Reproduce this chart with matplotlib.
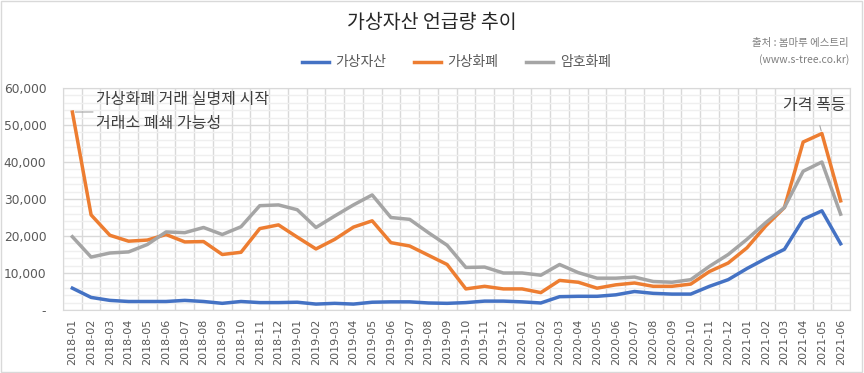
import numpy as np
import matplotlib.pyplot as plt
from matplotlib.ticker import FuncFormatter, MultipleLocator
from matplotlib.patches import Rectangle

plt.rcParams['font.family'] = ['Noto Sans CJK KR', 'DejaVu Sans']

# months 2018-01 .. 2021-06
months = []
for y in range(2018, 2022):
    for m in range(1, 13):
        if y == 2021 and m > 6:
            break
        months.append("%d-%02d" % (y, m))

asset = [5900, 3400, 2600, 2300, 2300, 2300, 2600, 2300, 1800, 2300, 2000, 2000,
         2100, 1600, 1800, 1600, 2100, 2200, 2200, 1900, 1800, 2000, 2400, 2400,
         2200, 1900, 3600, 3700, 3700, 4100, 5000, 4500, 4300, 4300, 6400, 8200,
         11200, 13900, 16400, 24500, 26800, 17900]
virtual = [53500, 25700, 20200, 18600, 18900, 20400, 18400, 18500, 15000, 15600, 22000, 23000,
           19700, 16500, 19100, 22400, 24100, 18200, 17300, 14800, 12300, 5700, 6400, 5700,
           5700, 4700, 8000, 7500, 5900, 6800, 7300, 6400, 6400, 7000, 10400, 12700,
           16800, 22700, 27700, 45400, 47700, 29500]
crypto = [19800, 14300, 15400, 15700, 17700, 21100, 20900, 22300, 20400, 22500, 28200, 28400,
          27100, 22300, 25400, 28400, 31100, 25000, 24500, 20900, 17500, 11500, 11600, 10000,
          10000, 9400, 12300, 10100, 8600, 8600, 8900, 7700, 7500, 8200, 11800, 15000,
          19100, 23600, 27700, 37500, 40000, 25900]

names = ['가상자산', '가상화폐', '암호화폐']
colors = ['#4472C4', '#ED7D31', '#A5A5A5']

fig = plt.figure(figsize=(8.64, 3.73), dpi=100)
ax = fig.add_axes([63 / 864, 1 - 310 / 373, (850 - 63) / 864, (310 - 88) / 373])

x = np.arange(len(months))
for vals, name, c in zip([asset, virtual, crypto], names, colors):
    ax.plot(x, vals, color=c, lw=2.5, label=name, solid_joinstyle='round', zorder=3)

ax.set_xlim(-0.5, len(months) - 0.5)
ax.set_ylim(0, 60000)
ax.yaxis.set_major_locator(MultipleLocator(10000))
ax.yaxis.set_minor_locator(MultipleLocator(2000))
ax.yaxis.set_major_formatter(FuncFormatter(lambda v, p: '-' if v == 0 else '{:,.0f}'.format(v)))
ax.set_xticks(x)
ax.set_xticklabels(months, rotation=90, fontsize=8, color='#595959', family='DejaVu Sans')
ax.set_xticks(np.arange(-0.5, len(months), 1), minor=True)
ax.tick_params(axis='y', labelsize=8.8, colors='#595959', length=0, which='both', pad=12)
ax.tick_params(axis='x', length=0, which='both', pad=6)
for lbl in ax.get_yticklabels():
    lbl.set_family('DejaVu Sans')

ax.grid(axis='y', which='major', color='#D9D9D9', lw=1)
ax.grid(axis='y', which='minor', color='#EFEFEF', lw=1)
ax.grid(axis='x', which='minor', color='#D9D9D9', lw=1)
ax.set_axisbelow(True)
for s in ax.spines.values():
    s.set_color('#D9D9D9')

fig.text(0.5, 1 - 22 / 373, '가상자산 언급량 추이', ha='center', va='center', fontsize=14, color='#262626')
ax.legend(loc='center', bbox_to_anchor=(0.5, 1.115), ncol=3, frameon=False, fontsize=10,
          handlelength=1.9, handletextpad=0.5, columnspacing=2.0, labelcolor='#595959')
fig.text(849 / 864, 1 - 43 / 373, '출처 : 봄마루 에스트리', ha='right', va='center', fontsize=7.5, color='#7F7F7F')
fig.text(849 / 864, 1 - 60 / 373, '(www.s-tree.co.kr)', ha='right', va='center', fontsize=7.5, color='#7F7F7F')

ax.annotate('가상화폐 거래 실명제 시작\n거래소 폐쇄 가능성', xy=(0, virtual[0]), xytext=(1.25, 53600),
            fontsize=11.5, color='#404040', va='center', ha='left', linespacing=1.55,
            arrowprops=dict(arrowstyle='-', color='#A5A5A5', lw=0.8, shrinkA=0, shrinkB=2))
ax.annotate('가격 폭등', xy=(40, virtual[40]), xytext=(39.6, 55400),
            fontsize=11.5, color='#404040', va='center', ha='center',
            arrowprops=dict(arrowstyle='-', color='#A5A5A5', lw=0.8, shrinkA=7, shrinkB=2))

fig.patches.append(Rectangle((0.001, 0.002), 0.997, 0.995, transform=fig.transFigure,
                             fill=False, edgecolor='#D9D9D9', lw=1))

fig.savefig('out.png', dpi=100)
